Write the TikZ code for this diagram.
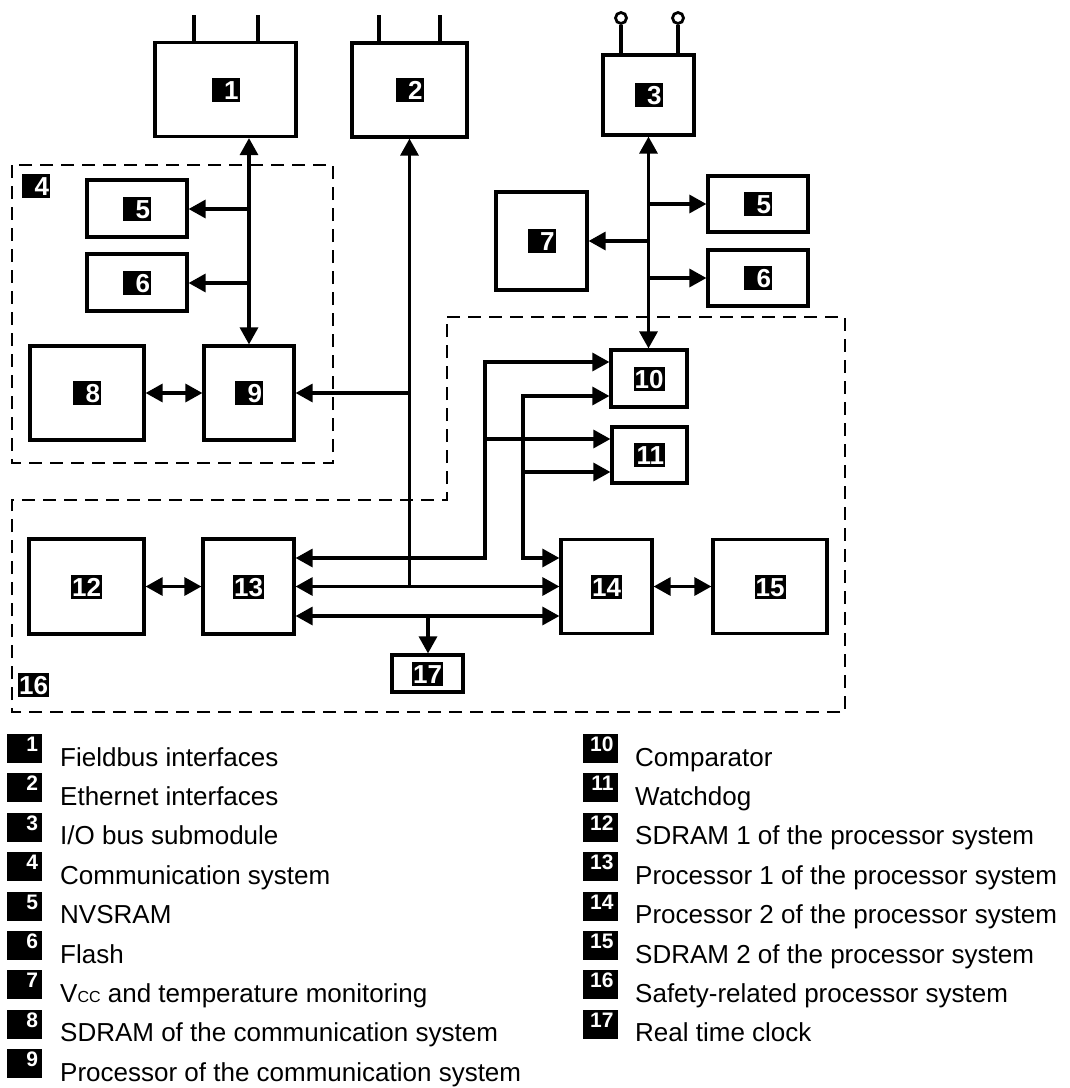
\documentclass[tikz,border=0pt]{standalone}
\usepackage{fontspec}
\setmainfont{Liberation Sans}
\usetikzlibrary{arrows.meta}
\begin{document}
\begin{tikzpicture}[x=1pt,y=-1pt,
  box/.style={draw,line width=3.2pt,inner sep=0pt,fill=white},
  badge/.style={fill=black,text=white,font=\bfseries\fontsize{26}{26}\selectfont,inner xsep=1pt,inner ysep=0pt,text height=21.5pt,text depth=2.5pt,text width=26pt,align=right},
  badgeII/.style={badge,text width=29pt},
  lbadge/.style={fill=black,text=white,font=\bfseries\fontsize{21}{21}\selectfont,inner xsep=4pt,inner ysep=0pt,text height=17.5pt,text depth=11.5pt,text width=27pt,align=right},
  legtext/.style={font=\fontsize{26}{30}\selectfont,inner sep=0pt,anchor=base west},
  tip/.tip={Triangle[length=17pt,width=18pt]},
  conn/.style={line width=3.2pt,arrows={-tip}},
  bconn/.style={line width=3.2pt,arrows={tip-tip}},
  rconn/.style={line width=3.2pt,arrows={tip-}},
  wire/.style={line width=3.2pt},
  ant/.style={circle,draw,line width=2.8pt,minimum size=11pt,inner sep=0pt,fill=white},
  dashbox/.style={line width=2pt,dash pattern=on 13pt off 8pt}
]
\useasboundingbox (0,0) rectangle (1070,1088);

% dashed group boxes
\draw[dashbox] (12,165) rectangle (333,463);
\draw[dashbox] (447,317) -- (845,317) -- (845,712) -- (12,712) -- (12,500) -- (447,500) -- cycle;
\node[badge] (n4) at (36,186) {4};
\node[badgeII] (n16) at (33.5,685) {16};

% boxes
\node[box,minimum width=141,minimum height=94] (b1) at (225.5,89.5) {};
\node[box,minimum width=115,minimum height=94] (b2) at (409.5,90) {};
\node[box,minimum width=91,minimum height=80] (b3) at (648.5,95) {};
\node[box,minimum width=100,minimum height=57] (b5L) at (137,208.5) {};
\node[box,minimum width=100,minimum height=57] (b6L) at (137,282.5) {};
\node[box,minimum width=114,minimum height=94] (b8) at (87,393) {};
\node[box,minimum width=90,minimum height=94] (b9) at (249,393) {};
\node[box,minimum width=91,minimum height=98] (b7) at (541.5,241) {};
\node[box,minimum width=100,minimum height=56] (b5R) at (758,204) {};
\node[box,minimum width=100,minimum height=56] (b6R) at (758,278) {};
\node[box,minimum width=76,minimum height=57] (b10) at (649,378.5) {};
\node[box,minimum width=75,minimum height=56] (b11) at (649.5,455) {};
\node[box,minimum width=115,minimum height=95] (b12) at (86.5,586.5) {};
\node[box,minimum width=91,minimum height=95] (b13) at (248.5,586.5) {};
\node[box,minimum width=91,minimum height=94] (b14) at (606.5,586.5) {};
\node[box,minimum width=114,minimum height=94] (b15) at (770,586.5) {};
\node[box,minimum width=71,minimum height=37] (b17) at (427.5,673.5) {};

% badges in boxes
\node[badge] (n1) at (b1) {1};
\node[badge] (n2) at (b2) {2};
\node[badge] (n3) at (b3) {3};
\node[badge] (n5L) at (b5L) {5};
\node[badge] (n6L) at (b6L) {6};
\node[badge] (n8) at (b8) {8};
\node[badge] (n9) at (b9) {9};
\node[badge] (n7) at (b7) {7};
\node[badge] (n5R) at (b5R) {5};
\node[badge] (n6R) at (b6R) {6};
\node[badgeII] (n10) at (b10) {10};
\node[badgeII] (n11) at (b11) {11};
\node[badgeII] (n12) at (b12) {12};
\node[badgeII] (n13) at (b13) {13};
\node[badgeII] (n14) at (b14) {14};
\node[badgeII] (n15) at (b15) {15};
\node[badgeII] (n17) at (b17) {17};

% antennas
\coordinate (a1) at (194,15);
\coordinate (a2) at (258,15);
\coordinate (a3) at (379,15);
\coordinate (a4) at (440,15);
\draw[wire] (a1) -- (a1 |- b1.north);
\draw[wire] (a2) -- (a2 |- b1.north);
\draw[wire] (a3) -- (a3 |- b2.north);
\draw[wire] (a4) -- (a4 |- b2.north);
\node[ant] (c1) at (621,18) {};
\node[ant] (c2) at (678,18) {};
\draw[wire] (c1) -- (c1 |- b3.north);
\draw[wire] (c2) -- (c2 |- b3.north);

% communication system connectors
\draw[bconn] (b9.north |- b1.south) -- (b9.north);
\coordinate (j5) at (249,209);
\coordinate (j6) at (249,283);
\draw[conn] (j5) -- (j5 -| b5L.east);
\draw[conn] (j6) -- (j6 -| b6L.east);
\draw[bconn] (b8.east) -- (b9.west);
\draw[rconn] (b2.south) -- (b2.south |- b13.east);
\draw[conn] (b2.south |- b9.east) -- (b9.east);

% I/O bus connectors
\draw[bconn] (b3.south) -- (b3.south |- b10.north);
\coordinate (k5) at (648.5,204);
\coordinate (k7) at (648.5,241);
\coordinate (k6) at (648.5,278);
\draw[conn] (k5) -- (k5 -| b5R.west);
\draw[conn] (k7) -- (k7 -| b7.east);
\draw[conn] (k6) -- (k6 -| b6R.west);

% processor system connectors
\coordinate (p1) at (485,362);
\coordinate (p2) at (485,558);
\coordinate (p3) at (485,439);
\coordinate (q1) at (523,396);
\coordinate (q2) at (523,558);
\coordinate (q3) at (523,472);
\draw[bconn] (p1 -| b10.west) -- (p1) -- (p2) -- (p2 -| b13.east);
\draw[conn] (p3) -- (p3 -| b11.west);
\draw[bconn] (q1 -| b10.west) -- (q1) -- (q2) -- (q2 -| b14.west);
\draw[conn] (q3) -- (q3 -| b11.west);
\draw[bconn] (b13.east) -- (b13.east -| b14.west);
\coordinate (bb) at (428,616);
\draw[bconn] (b13.east |- bb) -- (b14.west |- bb);
\draw[conn] (bb) -- (bb |- b17.north);
\draw[bconn] (b12.east) -- (b13.west);
\draw[bconn] (b14.east) -- (b15.west);

% legend, left column
\node[lbadge] (l1) at (24.5,748.5) {1};
\node[lbadge] (l2) at (24.5,787.9) {2};
\node[lbadge] (l3) at (24.5,827.3) {3};
\node[lbadge] (l4) at (24.5,866.7) {4};
\node[lbadge] (l5) at (24.5,906.1) {5};
\node[lbadge] (l6) at (24.5,945.5) {6};
\node[lbadge] (l7) at (24.5,984.9) {7};
\node[lbadge] (l8) at (24.5,1024.3) {8};
\node[lbadge] (l9) at (24.5,1063.7) {9};
\node[legtext] (t1) at (60,766) {Fieldbus interfaces};
\node[legtext] (t2) at (60,805.4) {Ethernet interfaces};
\node[legtext] (t3) at (60,844.8) {I/O bus submodule};
\node[legtext] (t4) at (60,884.2) {Communication system};
\node[legtext] (t5) at (60,923.6) {NVSRAM};
\node[legtext] (t6) at (60,963) {Flash};
\node[legtext] (t7) at (60,1002.4) {V{\fontsize{16}{16}\selectfont CC} and temperature monitoring};
\node[legtext] (t8) at (60,1041.8) {SDRAM of the communication system};
\node[legtext] (t9) at (60,1081.2) {Processor of the communication system};

% legend, right column
\node[lbadge] (l10) at (600,748.5) {10};
\node[lbadge] (l11) at (600,787.9) {11};
\node[lbadge] (l12) at (600,827.3) {12};
\node[lbadge] (l13) at (600,866.7) {13};
\node[lbadge] (l14) at (600,906.1) {14};
\node[lbadge] (l15) at (600,945.5) {15};
\node[lbadge] (l16) at (600,984.9) {16};
\node[lbadge] (l17) at (600,1024.3) {17};
\node[legtext] (t10) at (635,766) {Comparator};
\node[legtext] (t11) at (635,805.4) {Watchdog};
\node[legtext] (t12) at (635,844.8) {SDRAM 1 of the processor system};
\node[legtext] (t13) at (635,884.2) {Processor 1 of the processor system};
\node[legtext] (t14) at (635,923.6) {Processor 2 of the processor system};
\node[legtext] (t15) at (635,963) {SDRAM 2 of the processor system};
\node[legtext] (t16) at (635,1002.4) {Safety-related processor system};
\node[legtext] (t17) at (635,1041.8) {Real time clock};
\end{tikzpicture}
\end{document}
